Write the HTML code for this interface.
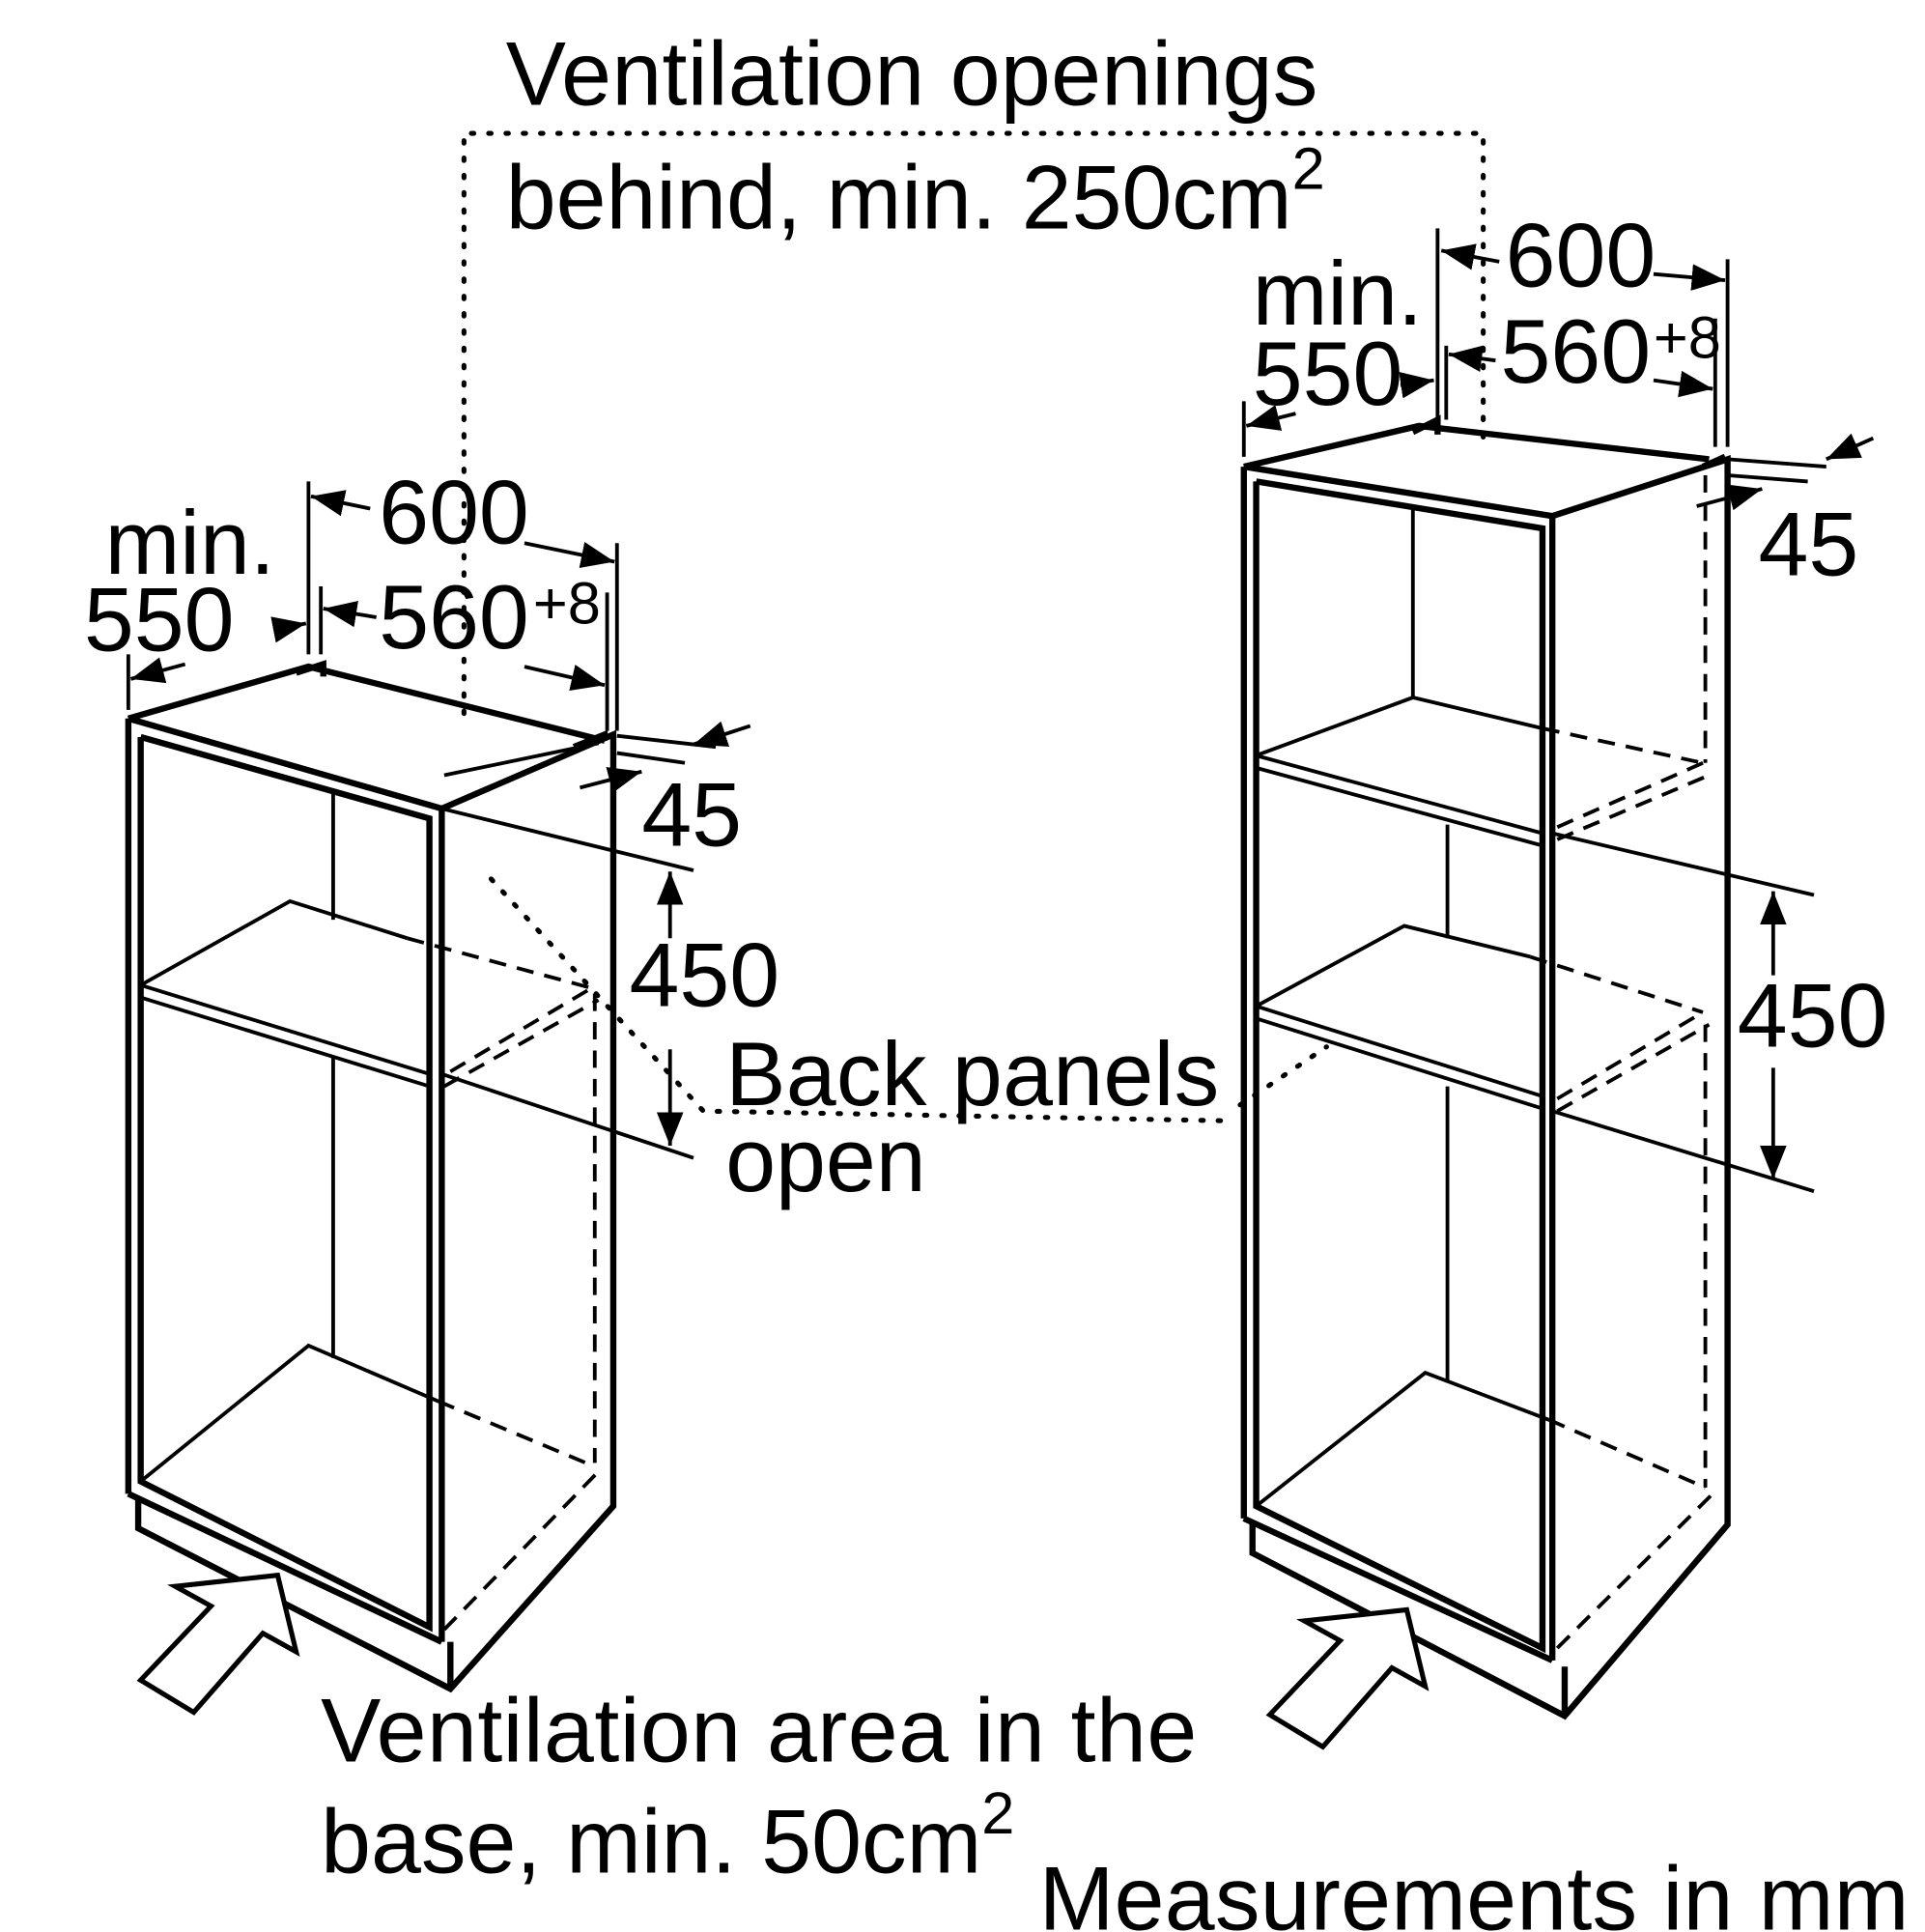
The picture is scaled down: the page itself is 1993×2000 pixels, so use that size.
<!DOCTYPE html>
<html><head><style>html,body{margin:0;padding:0;background:#fff}svg{display:block}</style></head>
<body>
<svg width="1993" height="2000" viewBox="0 0 1560 1565" preserveAspectRatio="none" xmlns="http://www.w3.org/2000/svg" font-family="Liberation Sans, sans-serif" fill="none" stroke="#000">
<defs><marker id="a" viewBox="0 0 10 10" refX="10" refY="5" markerWidth="9" markerHeight="9" orient="auto-start-reverse"><path d="M0,1 L10,5 L0,9 z" fill="#000" stroke="none"/></marker></defs>
<g fill="#000" stroke="none" font-size="73">
<text x="410" y="85" textLength="658">Ventilation openings</text>
<text x="410" y="185">behind, min. 250cm<tspan font-size="48" dy="-32">2</tspan></text>
<text x="307" y="440">600</text>
<text x="85" y="465">min.</text>
<text x="68" y="527">550</text>
<text x="307" y="525">560</text>
<text x="432" y="505" font-size="48">+8</text>
<text x="520" y="685">45</text>
<text x="510" y="815">450</text>
<text x="588" y="895" textLength="400">Back panels</text>
<text x="588" y="965">open</text>
<text x="1220" y="232">600</text>
<text x="1015" y="263">min.</text>
<text x="1015" y="328">550</text>
<text x="1216" y="310">560</text>
<text x="1340" y="290" font-size="48">+8</text>
<text x="1425" y="466">45</text>
<text x="1408" y="848">450</text>
<text x="260" y="1427" textLength="710">Ventilation area in the</text>
<text x="260" y="1517">base, min. 50cm<tspan font-size="48" dy="-32">2</tspan></text>
<text x="842" y="1563" textLength="705">Measurements in mm</text>
</g>
<g stroke-width="4" stroke-dasharray="2 12" stroke-linecap="round">
<polyline points="376,578 376,108 1202,108 1202,358"/>
<polyline points="398,712 570,900 1000,908"/>
<line x1="1005" y1="895" x2="1075" y2="848"/>
</g>
<!-- LEFT cabinet -->
<g stroke-width="5">
<polyline points="104,582 250,540 490,600"/>
<polyline points="104,582 104,1210"/>
<polyline points="104,582 358,655 358,1330"/>
<polyline points="358,655 497,595 497,1220 365,1368 112,1238 112,1212"/>
<polyline points="104,1210 358,1330"/>
<polyline points="114,597 348,663 348,1318 114,1200 114,597"/>
<line x1="365" y1="1330" x2="365" y2="1368"/>
<polyline points="240,545 262,538 262,548"/>
<polyline points="465,605 490,595 490,600"/>
</g>
<g stroke-width="3">
<polyline points="114,798 235,730 330,760"/>
<line x1="114" y1="798" x2="348" y2="870"/>
<line x1="114" y1="808" x2="348" y2="880"/>
<line x1="270" y1="640" x2="270" y2="745"/>
<line x1="270" y1="856" x2="270" y2="1100"/>
<polyline points="114,1200 250,1090 355,1135"/>
<line x1="358" y1="655" x2="562" y2="705"/>
<line x1="358" y1="870" x2="562" y2="938"/>
<line x1="360" y1="628" x2="485" y2="602"/>
<line x1="500" y1="596" x2="580" y2="605"/>
<line x1="500" y1="610" x2="555" y2="618"/>
</g>
<g stroke-width="3" stroke-dasharray="14 9">
<line x1="330" y1="760" x2="478" y2="800"/>
<line x1="365" y1="868" x2="480" y2="800"/>
<line x1="360" y1="880" x2="485" y2="810"/>
<line x1="482" y1="805" x2="482" y2="1185"/>
<line x1="355" y1="1135" x2="482" y2="1188"/>
<line x1="360" y1="1320" x2="485" y2="1192"/>
</g>
<!-- left dims -->
<g stroke-width="3">
<line x1="250" y1="390" x2="250" y2="530"/>
<line x1="260" y1="475" x2="260" y2="530"/>
<line x1="500" y1="440" x2="500" y2="592"/>
<line x1="492" y1="480" x2="492" y2="592"/>
<line x1="104" y1="530" x2="104" y2="575"/>
<line x1="300" y1="412" x2="252" y2="402" marker-end="url(#a)"/>
<line x1="425" y1="440" x2="498" y2="455" marker-end="url(#a)"/>
<line x1="305" y1="500" x2="262" y2="493" marker-end="url(#a)"/>
<line x1="425" y1="540" x2="490" y2="555" marker-end="url(#a)"/>
<line x1="150" y1="538" x2="106" y2="550" marker-end="url(#a)"/>
<line x1="222" y1="510" x2="248" y2="505" marker-end="url(#a)"/>
<line x1="608" y1="588" x2="562" y2="603" marker-end="url(#a)"/>
<line x1="470" y1="638" x2="520" y2="625" marker-end="url(#a)"/>
<line x1="543" y1="760" x2="543" y2="706" marker-end="url(#a)"/>
<line x1="543" y1="850" x2="543" y2="928" marker-end="url(#a)"/>
</g>
<!-- RIGHT cabinet -->
<g stroke-width="5">
<polyline points="1008,378 1150,345 1385,372"/>
<line x1="1008" y1="378" x2="1008" y2="1230"/>
<polyline points="1008,378 1258,418 1258,1345"/>
<polyline points="1258,418 1400,372 1400,1235 1268,1390 1015,1258 1015,1233"/>
<line x1="1008" y1="1230" x2="1258" y2="1345"/>
<polyline points="1018,390 1250,428 1250,1335 1018,1220 1018,390"/>
<line x1="1268" y1="1350" x2="1268" y2="1390"/>
<polyline points="1145,350 1165,340 1165,352"/>
<polyline points="1380,378 1398,370"/>
</g>
<g stroke-width="3">
<polyline points="1018,612 1145,565 1250,590"/>
<line x1="1018" y1="612" x2="1250" y2="675"/>
<line x1="1018" y1="622" x2="1250" y2="685"/>
<line x1="1145" y1="410" x2="1145" y2="565"/>
<polyline points="1018,815 1138,750 1240,775"/>
<line x1="1018" y1="815" x2="1250" y2="888"/>
<line x1="1018" y1="825" x2="1250" y2="898"/>
<line x1="1173" y1="668" x2="1173" y2="760"/>
<line x1="1173" y1="880" x2="1173" y2="1120"/>
<polyline points="1018,1220 1155,1112 1255,1150"/>
<line x1="1258" y1="675" x2="1470" y2="725"/>
<line x1="1258" y1="900" x2="1470" y2="965"/>
<line x1="1400" y1="372" x2="1480" y2="378"/>
<line x1="1400" y1="385" x2="1465" y2="390"/>
</g>
<g stroke-width="3" stroke-dasharray="14 9">
<line x1="1382" y1="385" x2="1382" y2="618"/>
<line x1="1250" y1="590" x2="1380" y2="618"/>
<line x1="1262" y1="670" x2="1380" y2="618"/>
<line x1="1262" y1="680" x2="1385" y2="628"/>
<line x1="1240" y1="775" x2="1380" y2="820"/>
<line x1="1262" y1="890" x2="1380" y2="820"/>
<line x1="1262" y1="900" x2="1385" y2="830"/>
<line x1="1382" y1="830" x2="1382" y2="1205"/>
<line x1="1255" y1="1150" x2="1382" y2="1205"/>
<line x1="1262" y1="1335" x2="1388" y2="1210"/>
</g>
<g stroke-width="3">
<line x1="1165" y1="185" x2="1165" y2="340"/>
<line x1="1172" y1="280" x2="1172" y2="340"/>
<line x1="1400" y1="210" x2="1400" y2="362"/>
<line x1="1390" y1="258" x2="1390" y2="362"/>
<line x1="1008" y1="325" x2="1008" y2="370"/>
<line x1="1215" y1="212" x2="1168" y2="203" marker-end="url(#a)"/>
<line x1="1340" y1="222" x2="1398" y2="227" marker-end="url(#a)"/>
<line x1="1212" y1="292" x2="1174" y2="287" marker-end="url(#a)"/>
<line x1="1340" y1="308" x2="1388" y2="315" marker-end="url(#a)"/>
<line x1="1050" y1="335" x2="1010" y2="345" marker-end="url(#a)"/>
<line x1="1135" y1="312" x2="1162" y2="308" marker-end="url(#a)"/>
<line x1="1518" y1="355" x2="1480" y2="372" marker-end="url(#a)"/>
<line x1="1375" y1="410" x2="1428" y2="396" marker-end="url(#a)"/>
<line x1="1437" y1="790" x2="1437" y2="722" marker-end="url(#a)"/>
<line x1="1437" y1="865" x2="1437" y2="955" marker-end="url(#a)"/>
</g>
<!-- big arrows -->
<g stroke-width="4" fill="#fff" stroke-linejoin="miter">
<polygon points="114,1361 171,1301 142,1285 225,1276 240,1338 213,1323 157,1387"/>
<polygon points="1029,1389 1086,1329 1057,1313 1140,1304 1155,1366 1128,1351 1072,1415"/>
</g>
</svg>
</body></html>
